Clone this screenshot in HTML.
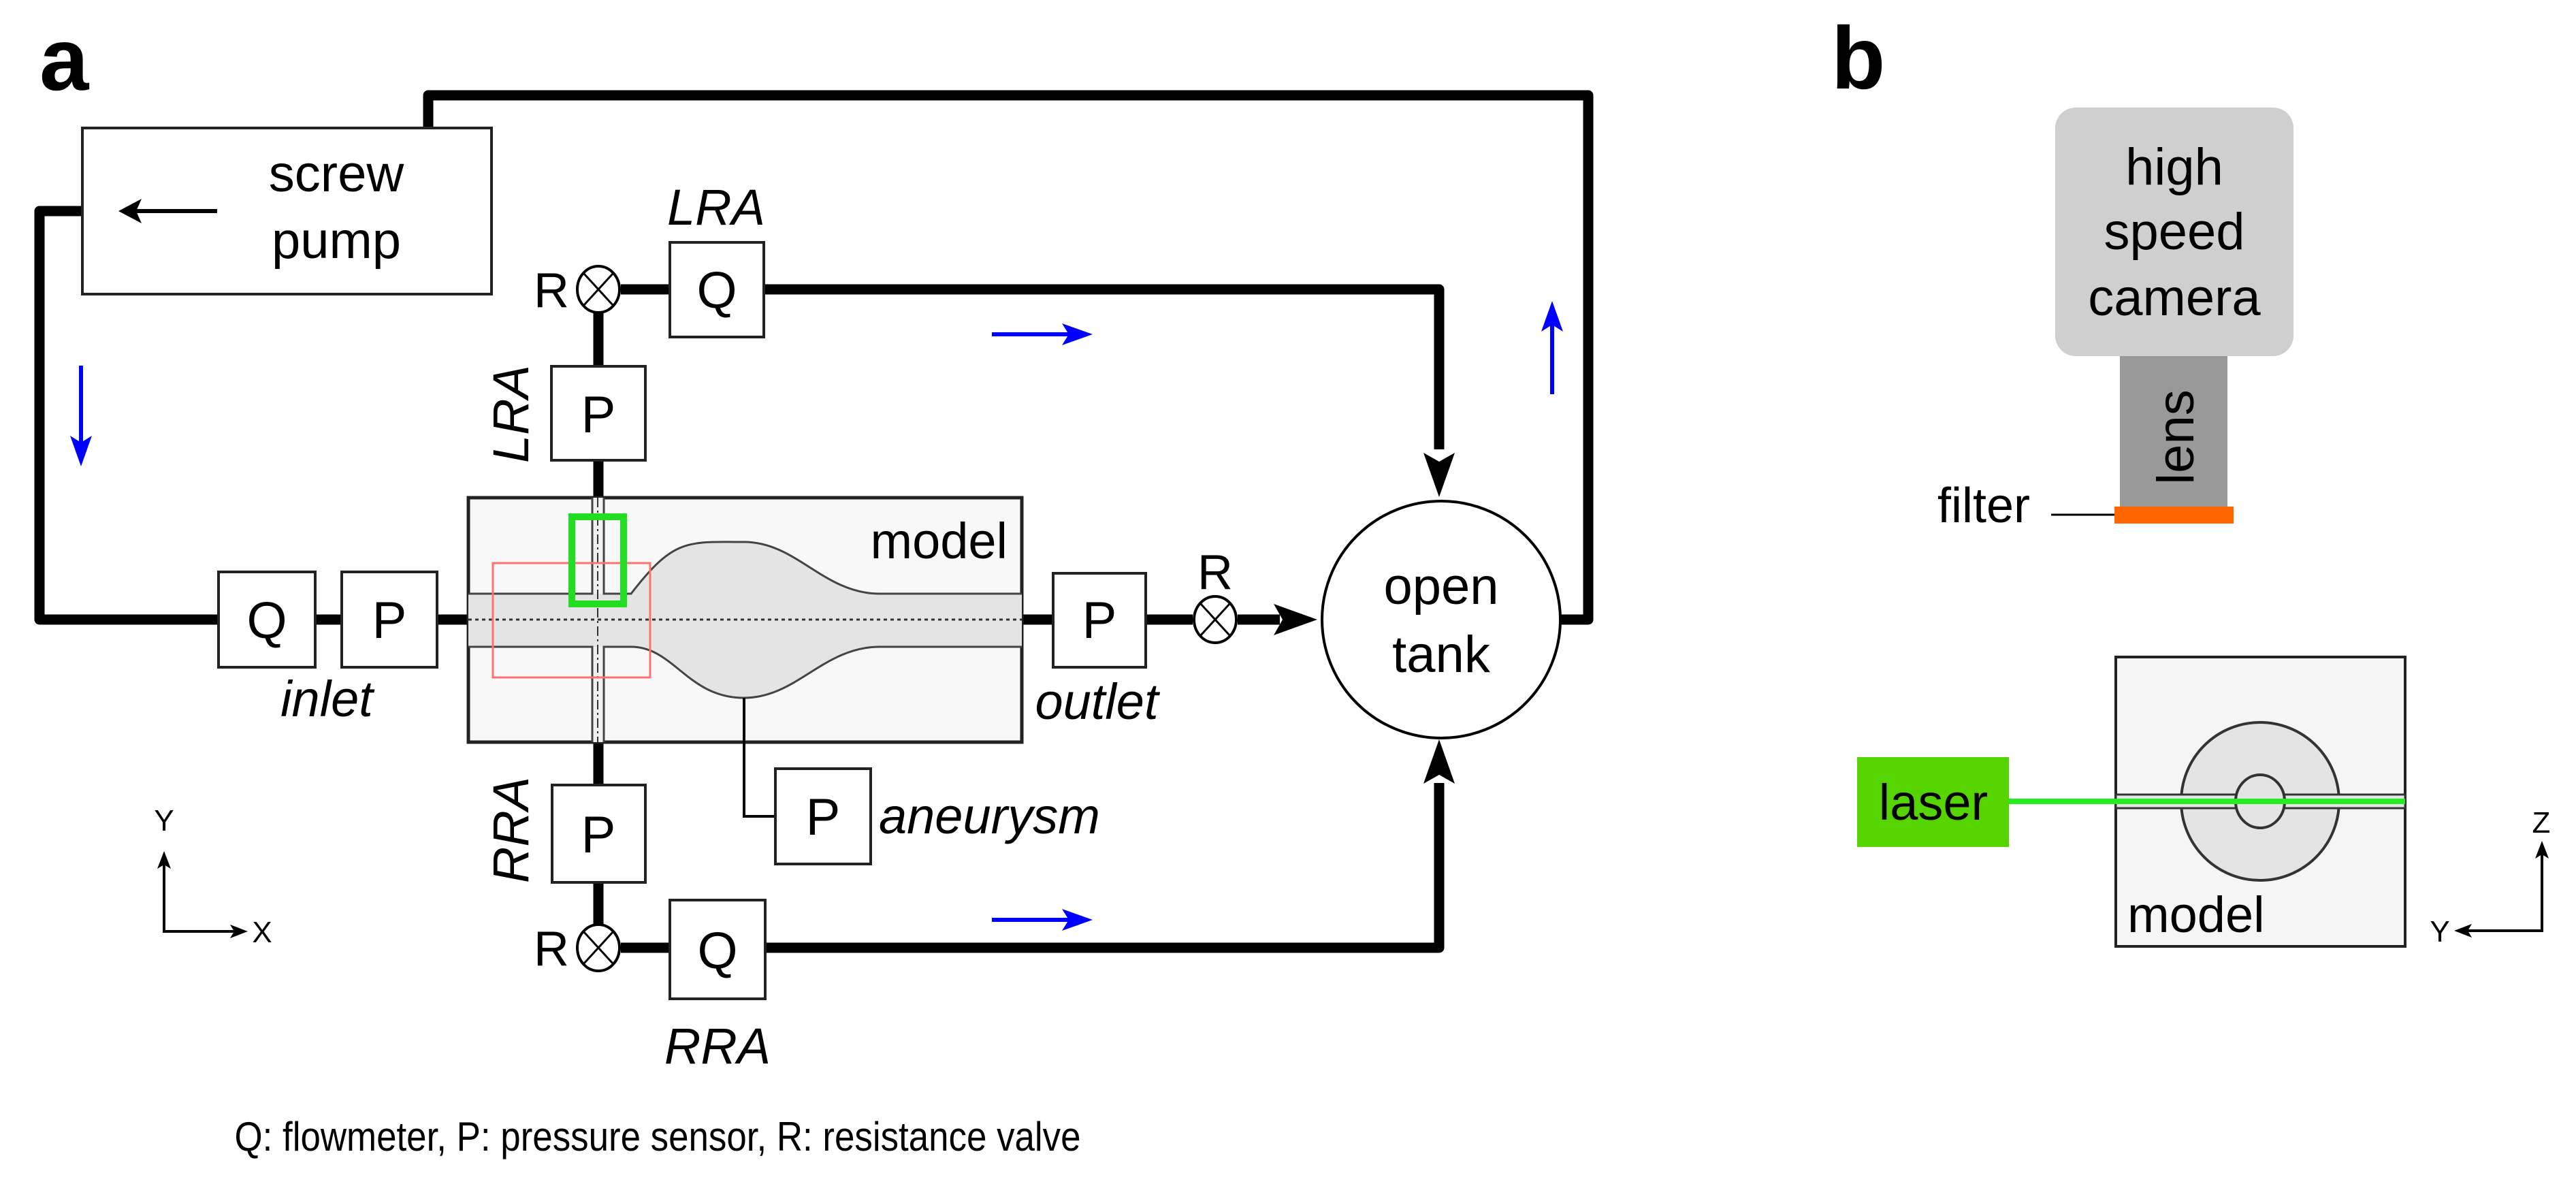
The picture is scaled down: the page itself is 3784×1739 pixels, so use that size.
<!DOCTYPE html>
<html><head><meta charset="utf-8"><style>html,body{margin:0;padding:0;background:#fff}svg{display:block}</style></head>
<body>
<svg width="3784" height="1739" viewBox="0 0 3784 1739" xmlns="http://www.w3.org/2000/svg" font-family="Liberation Sans, Arial, sans-serif">
<rect width="3784" height="1739" fill="#fff"/>
<text x="58" y="132" font-size="130" font-weight="bold">a</text>
<text x="2690" y="130" font-size="130" font-weight="bold">b</text>

<!-- pipes -->
<g stroke="#000" stroke-width="15" fill="none" stroke-linejoin="round">
<polyline points="629,188 629,140 2333,140 2333,910 2292,910"/>
<polyline points="121,310 58,310 58,910 321,910"/>
<line x1="463" y1="910" x2="502" y2="910"/>
<line x1="642" y1="910" x2="688" y2="910"/>
<line x1="1501" y1="910" x2="1547" y2="910"/>
<line x1="1683" y1="910" x2="1752" y2="910"/>
<line x1="1818" y1="910" x2="1880" y2="910"/>
<line x1="912" y1="425" x2="984" y2="425"/>
<polyline points="1122,425 2114,425 2114,660"/>
<line x1="879" y1="458" x2="879" y2="538"/>
<line x1="879" y1="676" x2="879" y2="731"/>
<line x1="879" y1="1090" x2="879" y2="1153"/>
<line x1="879" y1="1296" x2="879" y2="1359"/>
<line x1="912" y1="1392" x2="984" y2="1392"/>
<polyline points="1124,1392 2114,1392 2114,1150"/>
</g>
<polygon points="2114,730 2091,665 2114,678 2137,665" fill="#000"/>
<polygon points="2114,1086 2091,1151 2114,1138 2137,1151" fill="#000"/>
<polygon points="1935,910 1871,887 1884,910 1871,933" fill="#000"/>

<!-- pump -->
<rect x="121" y="188" width="601" height="244" fill="#fff" stroke="#222" stroke-width="4"/>
<text x="494" y="281" font-size="76" text-anchor="middle">screw</text>
<text x="494" y="379" font-size="76" text-anchor="middle">pump</text>
<line x1="319" y1="310" x2="190" y2="310" stroke="#000" stroke-width="6"/>
<polygon points="174,310 208,292 200,310 208,328" fill="#000"/>

<!-- model -->
<rect x="688" y="731" width="813" height="359" fill="#f8f8f8" stroke="#222" stroke-width="5"/>
<rect x="870" y="731" width="17" height="359" fill="#f0f0f0"/>
<path d="M688,872 L927,872 C990,790 1010,796 1093,796 C1170,796 1210,872 1292,872 L1501,872 L1501,950 L1292,950 C1210,950 1170,1025 1093,1025 C1010,1025 990,950 927,950 L688,950 Z" fill="#e4e4e4" stroke="none"/>
<rect x="870" y="872" width="17" height="78" fill="#e4e4e4"/>
<path d="M688,872 L870,872 L870,731 M887,731 L887,872 L927,872 C990,790 1010,796 1093,796 C1170,796 1210,872 1292,872 L1501,872 M1501,950 L1292,950 C1210,950 1170,1025 1093,1025 C1010,1025 990,950 927,950 L887,950 L887,1090 M870,1090 L870,950 L688,950" fill="none" stroke="#444" stroke-width="3"/>
<line x1="688" y1="910" x2="1501" y2="910" stroke="#333" stroke-width="3" stroke-dasharray="5,5"/>
<line x1="878" y1="731" x2="878" y2="1090" stroke="#333" stroke-width="2" stroke-dasharray="14,5,3,5"/>
<rect x="724" y="827" width="231" height="168" fill="none" stroke="#ff7070" stroke-width="3"/>
<rect x="840" y="759" width="76" height="128" fill="none" stroke="#22dd22" stroke-width="10"/>
<text x="1480" y="820" font-size="74" text-anchor="end">model</text>
<polyline points="1093,1025 1093,1199 1139,1199" fill="none" stroke="#000" stroke-width="4"/>

<g fill="#fff" stroke="#222" stroke-width="4">
<rect x="321" y="840" width="142" height="140"/>
<rect x="502" y="840" width="140" height="140"/>
<rect x="1547" y="842" width="136" height="138"/>
<rect x="984" y="356" width="138" height="139"/>
<rect x="810" y="538" width="138" height="138"/>
<rect x="811" y="1153" width="137" height="143"/>
<rect x="984" y="1322" width="140" height="145"/>
<rect x="1139" y="1129" width="140" height="140"/>
</g>
<g font-size="76" text-anchor="middle">
<text x="392" y="937">Q</text>
<text x="572" y="937">P</text>
<text x="1615" y="937">P</text>
<text x="1053" y="452">Q</text>
<text x="879" y="635">P</text>
<text x="879" y="1252">P</text>
<text x="1054" y="1422">Q</text>
<text x="1209" y="1226">P</text>
</g>
<g fill="#fff" stroke="#000" stroke-width="4">
<ellipse cx="879" cy="425" rx="31" ry="34"/>
<ellipse cx="879" cy="1392" rx="31" ry="34"/>
<ellipse cx="1785" cy="910" rx="31" ry="34"/>
</g>
<g stroke="#000" stroke-width="3">
<path d="M857,401 L901,449 M901,401 L857,449"/>
<path d="M857,1368 L901,1416 M901,1368 L857,1416"/>
<path d="M1763,886 L1807,934 M1807,886 L1763,934"/>
</g>
<g font-size="72">
<text x="836" y="451" text-anchor="end">R</text>
<text x="836" y="1418" text-anchor="end">R</text>
<text x="1785" y="865" text-anchor="middle">R</text>
</g>
<g font-size="74" font-style="italic" text-anchor="middle">
<text x="1052" y="330">LRA</text>
<text x="1054" y="1562">RRA</text>
<text x="480" y="1052">inlet</text>
<text x="1611" y="1056">outlet</text>
<text x="1291" y="1224" text-anchor="start">aneurysm</text>
<text transform="translate(776,608) rotate(-90)">LRA</text>
<text transform="translate(776,1219) rotate(-90)">RRA</text>
</g>

<ellipse cx="2117" cy="910" rx="175" ry="174" fill="#fff" stroke="#000" stroke-width="4"/>
<text x="2117" y="887" font-size="76" text-anchor="middle">open</text>
<text x="2117" y="987" font-size="76" text-anchor="middle">tank</text>

<g stroke="#0000ff" stroke-width="6">
<line x1="1457" y1="491" x2="1585" y2="491"/>
<line x1="1457" y1="1351" x2="1585" y2="1351"/>
<line x1="119" y1="537" x2="119" y2="665"/>
<line x1="2280" y1="579" x2="2280" y2="462"/>
</g>
<g fill="#0000ff">
<polygon points="1605,491 1560,475 1570,491 1560,507"/>
<polygon points="1605,1351 1560,1335 1570,1351 1560,1367"/>
<polygon points="119,685 103,640 119,650 135,640"/>
<polygon points="2280,442 2264,487 2280,477 2296,487"/>
</g>

<g stroke="#000" stroke-width="4" fill="none"><polyline points="241,1262 241,1368 352,1368"/></g>
<polygon points="241,1250 231,1276 241,1270 251,1276" fill="#000"/>
<polygon points="364,1368 338,1358 344,1368 338,1378" fill="#000"/>
<text x="241" y="1220" font-size="44" text-anchor="middle">Y</text>
<text x="385" y="1384" font-size="44" text-anchor="middle">X</text>

<text x="966" y="1690" font-size="60" text-anchor="middle" textLength="1243" lengthAdjust="spacingAndGlyphs">Q: flowmeter, P: pressure sensor, R: resistance valve</text>

<rect x="3019" y="158" width="350" height="365" rx="30" fill="#cfcfcf"/>
<text x="3194" y="271" font-size="76" text-anchor="middle">high</text>
<text x="3194" y="366" font-size="76" text-anchor="middle">speed</text>
<text x="3194" y="463" font-size="76" text-anchor="middle">camera</text>
<rect x="3114" y="523" width="158" height="221" fill="#999"/>
<text transform="translate(3222,642) rotate(-90)" font-size="76" text-anchor="middle">lens</text>
<rect x="3106" y="744" width="175" height="25" fill="#ff6600"/>
<line x1="3013" y1="756" x2="3106" y2="756" stroke="#000" stroke-width="3"/>
<text x="2846" y="767" font-size="72">filter</text>

<rect x="3108" y="965" width="425" height="425" fill="#f5f5f5" stroke="#222" stroke-width="4"/>
<ellipse cx="3320" cy="1177" rx="116" ry="116" fill="#e4e4e4" stroke="#333" stroke-width="4"/>
<rect x="3108" y="1167" width="425" height="20" fill="#e4e4e4" stroke="#333" stroke-width="3"/>
<ellipse cx="3320" cy="1177" rx="36" ry="39" fill="#e4e4e4" stroke="#333" stroke-width="4"/>
<rect x="2728" y="1112" width="223" height="132" fill="#55d400"/>
<text x="2840" y="1204" font-size="74" text-anchor="middle">laser</text>
<line x1="2951" y1="1177" x2="3533" y2="1177" stroke="#22ee22" stroke-width="8"/>
<text x="3125" y="1369" font-size="74">model</text>
<g stroke="#000" stroke-width="4" fill="none"><polyline points="3734,1247 3734,1367 3617,1367"/></g>
<polygon points="3734,1235 3724,1261 3734,1255 3744,1261" fill="#000"/>
<polygon points="3605,1367 3631,1357 3625,1367 3631,1377" fill="#000"/>
<text x="3733" y="1223" font-size="44" text-anchor="middle">Z</text>
<text x="3584" y="1383" font-size="44" text-anchor="middle">Y</text>
</svg>
</body></html>
